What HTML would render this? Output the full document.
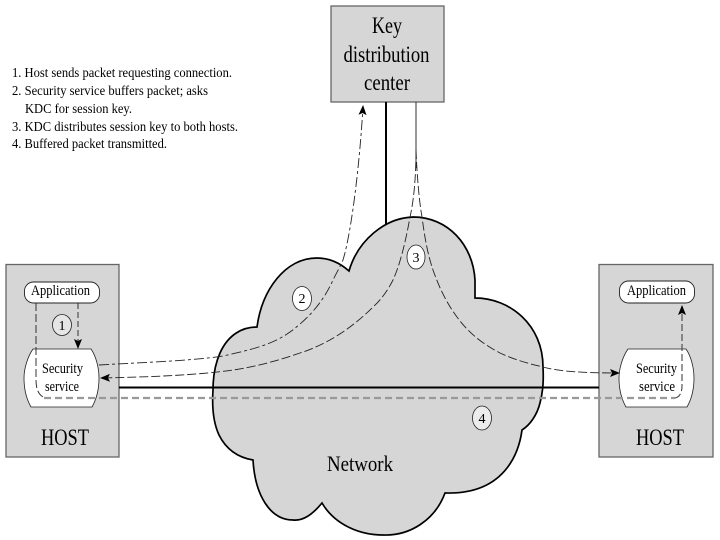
<!DOCTYPE html>
<html><head><meta charset="utf-8"><style>
html,body{margin:0;padding:0;background:#fff}
svg{display:block}
text{font-family:"Liberation Serif",serif;fill:#000}
</style></head><body>
<svg width="720" height="540" viewBox="0 0 720 540" xmlns="http://www.w3.org/2000/svg">
<defs>
<filter id="b" x="-5%" y="-5%" width="110%" height="110%"><feGaussianBlur stdDeviation="0.35"/></filter>
<marker id="a" markerWidth="10" markerHeight="8" refX="9" refY="4" orient="auto" markerUnits="userSpaceOnUse"><path d="M0,0 L10,4 L0,8 L2,4 Z" fill="#000"/></marker>
</defs>
<rect width="720" height="540" fill="#fff"/>
<g filter="url(#b)">
<!-- boxes -->
<rect x="6" y="264.500" width="113" height="192.500" fill="#d6d6d6" stroke="#666" stroke-width="1.300"/>
<rect x="599" y="264.500" width="114" height="192.500" fill="#d6d6d6" stroke="#666" stroke-width="1.300"/>
<rect x="331" y="6" width="113" height="96" fill="#d6d6d6" stroke="#666" stroke-width="1.300"/>
<!-- kdc lines -->
<line x1="386" y1="102" x2="386" y2="232" stroke="#000" stroke-width="2"/>
<line x1="416" y1="102" x2="416" y2="168" stroke="#333" stroke-width="1"/>
<!-- cloud -->
<path d="M349,271 C358,240 385,218 413,217 C448,217 473,245 475,280 L475,298 C510,298 543,325 543,367 C544,385 542,395 540,403 C537,415 530,425 522,430 C520,445 510,495 445,493 C435,520 410,536 383,535 C360,535 335,525 322,503 C312,515 303,521 293,520 C270,520 255,495 253,460 C235,457 225,447 219,435 C213,422 212,405 213,390 C213,375 216,362 220,353 C228,335 242,327 257,327 C262,290 285,258 317,258 C330,258 340,263 349,271 Z" fill="#d6d6d6" stroke="#000" stroke-width="1.700"/>
<!-- rounded app boxes -->
<rect x="24.500" y="282" width="75" height="21" rx="9" ry="9" fill="#fff" stroke="#222" stroke-width="0.900"/>
<rect x="619.500" y="281" width="75" height="22" rx="9" ry="9" fill="#fff" stroke="#222" stroke-width="0.900"/>
<!-- security -->
<path d="M33,349 H91 C96,356 99,368 99,378 C99,390 96,400 92,407 H31 C27,400 24,390 24,378 C24,368 28,356 33,349 Z" fill="#fff" stroke="#222" stroke-width="0.800"/>
<path d="M628,349 H686 C691,356 694,368 694,378 C694,390 691,400 687,407 H626 C622,400 619,390 619,378 C619,368 623,356 628,349 Z" fill="#fff" stroke="#222" stroke-width="0.800"/>
<!-- network lines -->
<line x1="119" y1="387.500" x2="599" y2="387.500" stroke="#000" stroke-width="2"/>
<line x1="44" y1="398" x2="675" y2="398" stroke="#999" stroke-width="2.200" stroke-dasharray="7,4"/>
<!-- dashed connectors -->
<g fill="none" stroke="#222" stroke-width="0.900">
<path d="M99,365 C150,362 190,361 223,356 C250,350 272,345 290,332 C312,316 325,298 333,280 C338,270 341,265 343,260 C352,230 360,160 363,106" stroke-dasharray="10,3,3,3" marker-end="url(#a)"/>
<path d="M416,150 C416,175 414,200 410,217 C406,240 400,265 393,280 C388,290 381,300 373,307 C350,330 325,345 300,353 C280,360 255,367 233,370 C200,375 150,377 101,378" stroke-dasharray="9,3" marker-end="url(#a)"/>
<path d="M416,150 C417,175 419,200 422,217 C425,240 428,255 433,270 C440,290 448,305 457,317 C470,335 485,345 500,353 C515,360 530,364 543,367 C560,372 590,373 619,373" stroke-dasharray="9,3" marker-end="url(#a)"/>
<path d="M78,303 V348" stroke-dasharray="6,3" marker-end="url(#a)"/>
<path d="M36,303 V380 C36,388 38,394 43,397" stroke-dasharray="8,3"/>
<path d="M675,398 C680,397 682,392 682,386 V306" stroke-dasharray="7,3" stroke="#444" stroke-width="1.100" marker-end="url(#a)"/>
</g>
<!-- circles -->
<ellipse cx="62" cy="325" rx="9.500" ry="10.500" fill="#e6e6e6" stroke="#222" stroke-width="0.800"/>
<ellipse cx="302" cy="298.500" rx="9.500" ry="12" fill="#fff" stroke="#222" stroke-width="0.800"/>
<ellipse cx="416" cy="257" rx="9" ry="12" fill="#fff" stroke="#222" stroke-width="0.800"/>
<ellipse cx="482" cy="418" rx="9.500" ry="12" fill="#ececec" stroke="#222" stroke-width="0.800"/>
<!-- labels -->
<text x="62" y="330" font-size="14" text-anchor="middle" fill="#555">1</text>
<text x="302" y="303" font-size="14" text-anchor="middle">2</text>
<text x="416" y="262" font-size="14" text-anchor="middle">3</text>
<text x="482" y="423" font-size="14" text-anchor="middle">4</text>
<text x="372" y="33" font-size="23" textLength="30" lengthAdjust="spacingAndGlyphs">Key</text>
<text x="343.500" y="62" font-size="23" textLength="86" lengthAdjust="spacingAndGlyphs">distribution</text>
<text x="364" y="90" font-size="23" textLength="46" lengthAdjust="spacingAndGlyphs">center</text>
<text x="41" y="445" font-size="23" textLength="48" lengthAdjust="spacingAndGlyphs">HOST</text>
<text x="636" y="445" font-size="23" textLength="48" lengthAdjust="spacingAndGlyphs">HOST</text>
<text x="327" y="471" font-size="22" textLength="66" lengthAdjust="spacingAndGlyphs">Network</text>
<text x="31" y="295" font-size="15" textLength="59" lengthAdjust="spacingAndGlyphs">Application</text>
<text x="627" y="295" font-size="15" textLength="59" lengthAdjust="spacingAndGlyphs">Application</text>
<text x="42" y="373" font-size="15" textLength="41" lengthAdjust="spacingAndGlyphs">Security</text>
<text x="45" y="391" font-size="15" textLength="34" lengthAdjust="spacingAndGlyphs">service</text>
<text x="636" y="373" font-size="15" textLength="41" lengthAdjust="spacingAndGlyphs">Security</text>
<text x="639" y="391" font-size="15" textLength="36" lengthAdjust="spacingAndGlyphs">service</text>
<text x="12" y="77" font-size="14" textLength="220" lengthAdjust="spacingAndGlyphs">1. Host sends packet requesting connection.</text>
<text x="12" y="95" font-size="14" textLength="196" lengthAdjust="spacingAndGlyphs">2. Security service buffers packet; asks</text>
<text x="25" y="113" font-size="14" textLength="107" lengthAdjust="spacingAndGlyphs">KDC for session key.</text>
<text x="12" y="131" font-size="14" textLength="226" lengthAdjust="spacingAndGlyphs">3. KDC distributes session key to both hosts.</text>
<text x="12" y="148" font-size="14" textLength="155" lengthAdjust="spacingAndGlyphs">4. Buffered packet transmitted.</text>
</g>
</svg>
</body></html>
